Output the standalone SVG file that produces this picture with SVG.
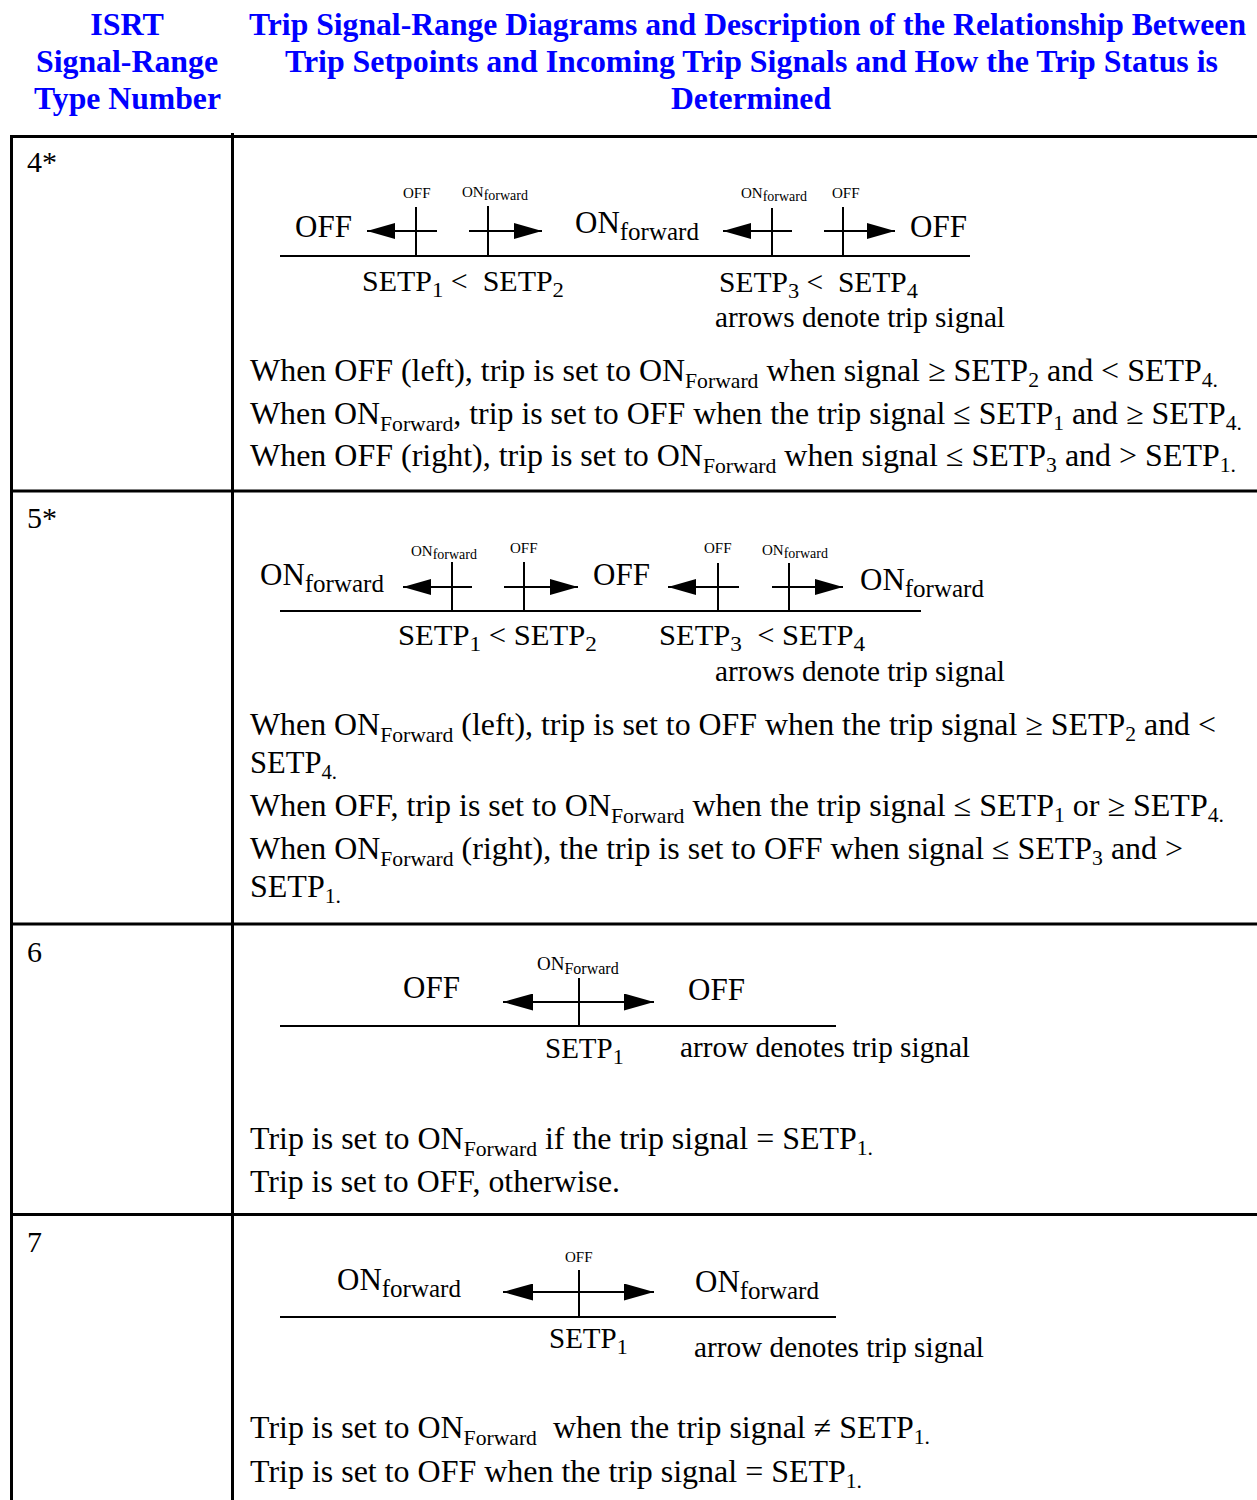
<svg xmlns="http://www.w3.org/2000/svg" width="1257" height="1500" viewBox="0 0 1257 1500">
<style>
.hd{font-family:"Liberation Serif",serif;font-weight:bold;font-size:32px;fill:#0000ff}
.t{font-family:"Liberation Serif",serif;fill:#000}
.big{font-size:31px}
.sm{font-size:15px}
.lbl{font-size:29px}
.body{font-size:31px}
.num{font-size:30px}
.grid{stroke:#000;stroke-width:3;fill:none}
.ln{stroke:#000;stroke-width:2;fill:none}
.ar{stroke:#000;stroke-width:2;fill:none;marker-end:url(#ah)}
.ar2{stroke:#000;stroke-width:2;fill:none;marker-end:url(#ah2);marker-start:url(#ah2)}
</style>
<defs>
<marker id="ah" markerUnits="userSpaceOnUse" markerWidth="29" markerHeight="16" refX="28" refY="8" orient="auto"><path d="M0,0 L28,8 L0,16 z" fill="#000"/></marker>
<marker id="ah2" markerUnits="userSpaceOnUse" markerWidth="31" markerHeight="17" refX="30" refY="8.5" orient="auto-start-reverse"><path d="M0,0 L30,8.5 L0,17 z" fill="#000"/></marker>
</defs>
<rect width="1257" height="1500" fill="#fff"/>

<g id="header">
<text class="hd" x="127" y="35" text-anchor="middle">ISRT</text>
<text class="hd" x="36" y="72" textLength="182" lengthAdjust="spacingAndGlyphs">Signal-Range</text>
<text class="hd" x="34" y="109" textLength="187" lengthAdjust="spacingAndGlyphs">Type Number</text>
<text class="hd" x="249" y="35" textLength="997" lengthAdjust="spacingAndGlyphs">Trip Signal-Range Diagrams and Description of the Relationship Between</text>
<text class="hd" x="285" y="72" textLength="933" lengthAdjust="spacingAndGlyphs">Trip Setpoints and Incoming Trip Signals and How the Trip Status is</text>
<text class="hd" x="671" y="109" textLength="160" lengthAdjust="spacingAndGlyphs">Determined</text>
</g>

<g id="table">
<line class="grid" x1="10" y1="136.5" x2="1257" y2="136.5"/>
<line class="grid" x1="11.5" y1="135" x2="11.5" y2="1500"/>
<line class="grid" x1="232.5" y1="133" x2="232.5" y2="1500"/>
<line class="grid" x1="10" y1="491" x2="1257" y2="491"/>
<line class="grid" x1="10" y1="924" x2="1257" y2="924"/>
<line class="grid" x1="10" y1="1214.5" x2="1257" y2="1214.5"/>
</g>

<g id="row4">
<text class="t num" x="27" y="172">4*</text>
<line class="ln" x1="280" y1="256" x2="970" y2="256"/>
<text class="t big" x="295" y="237">OFF</text>
<text class="t sm" x="403" y="198">OFF</text>
<text class="t sm" x="462" y="197">ON<tspan dy="3" font-size="14">forward</tspan></text>
<text class="t big" x="575" y="233">ON<tspan dy="7" font-size="25">forward</tspan></text>
<text class="t sm" x="741" y="198">ON<tspan dy="3" font-size="14">forward</tspan></text>
<text class="t sm" x="832" y="198">OFF</text>
<text class="t big" x="910" y="237">OFF</text>
<text class="t lbl" x="362" y="291" xml:space="preserve" textLength="202" lengthAdjust="spacingAndGlyphs">SETP<tspan dy="6" font-size="22">1</tspan><tspan dy="-6"> &lt;  SETP</tspan><tspan dy="6" font-size="22">2</tspan></text>
<text class="t lbl" x="719" y="292" xml:space="preserve" textLength="199" lengthAdjust="spacingAndGlyphs">SETP<tspan dy="6" font-size="22">3</tspan><tspan dy="-6"> &lt;  SETP</tspan><tspan dy="6" font-size="22">4</tspan></text>
<text class="t lbl" x="715" y="327" textLength="290" lengthAdjust="spacingAndGlyphs">arrows denote trip signal</text>
<text class="t body" x="250" y="381" textLength="968" lengthAdjust="spacingAndGlyphs">When OFF (left), trip is set to ON<tspan dy="7" font-size="21">Forward</tspan><tspan dy="-7"> when signal ≥ SETP</tspan><tspan dy="6" font-size="21">2</tspan><tspan dy="-6"> and &lt; SETP</tspan><tspan dy="6" font-size="21">4.</tspan></text>
<text class="t body" x="250" y="424" textLength="992" lengthAdjust="spacingAndGlyphs">When ON<tspan dy="7" font-size="21">Forward</tspan><tspan dy="-7">, trip is set to OFF when the trip signal ≤ SETP</tspan><tspan dy="6" font-size="21">1</tspan><tspan dy="-6"> and ≥ SETP</tspan><tspan dy="6" font-size="21">4.</tspan></text>
<text class="t body" x="250" y="466" textLength="986" lengthAdjust="spacingAndGlyphs">When OFF (right), trip is set to ON<tspan dy="7" font-size="21">Forward</tspan><tspan dy="-7"> when signal ≤ SETP</tspan><tspan dy="6" font-size="21">3</tspan><tspan dy="-6"> and &gt; SETP</tspan><tspan dy="6" font-size="21">1.</tspan></text>
</g>

<g id="row5">
<text class="t num" x="27" y="528">5*</text>
<line class="ln" x1="280" y1="611" x2="921" y2="611"/>
<text class="t big" x="260" y="585">ON<tspan dy="7" font-size="25">forward</tspan></text>
<text class="t sm" x="411" y="556">ON<tspan dy="3" font-size="14">forward</tspan></text>
<text class="t sm" x="510" y="553">OFF</text>
<text class="t big" x="593" y="585">OFF</text>
<text class="t sm" x="704" y="553">OFF</text>
<text class="t sm" x="762" y="555">ON<tspan dy="3" font-size="14">forward</tspan></text>
<text class="t big" x="860" y="590">ON<tspan dy="7" font-size="25">forward</tspan></text>
<text class="t lbl" x="398" y="645" xml:space="preserve" textLength="199" lengthAdjust="spacingAndGlyphs">SETP<tspan dy="6" font-size="22">1</tspan><tspan dy="-6"> &lt; SETP</tspan><tspan dy="6" font-size="22">2</tspan></text>
<text class="t lbl" x="659" y="645" xml:space="preserve" textLength="206" lengthAdjust="spacingAndGlyphs">SETP<tspan dy="6" font-size="22">3</tspan><tspan dy="-6">  &lt; SETP</tspan><tspan dy="6" font-size="22">4</tspan></text>
<text class="t lbl" x="715" y="681" textLength="290" lengthAdjust="spacingAndGlyphs">arrows denote trip signal</text>
<text class="t body" x="250" y="735" textLength="966" lengthAdjust="spacingAndGlyphs">When ON<tspan dy="7" font-size="21">Forward</tspan><tspan dy="-7"> (left), trip is set to OFF when the trip signal ≥ SETP</tspan><tspan dy="6" font-size="21">2</tspan><tspan dy="-6"> and &lt;</tspan></text>
<text class="t body" x="250" y="773" textLength="87" lengthAdjust="spacingAndGlyphs">SETP<tspan dy="6" font-size="21">4.</tspan></text>
<text class="t body" x="250" y="816" textLength="974" lengthAdjust="spacingAndGlyphs">When OFF, trip is set to ON<tspan dy="7" font-size="21">Forward</tspan><tspan dy="-7"> when the trip signal ≤ SETP</tspan><tspan dy="6" font-size="21">1</tspan><tspan dy="-6"> or ≥ SETP</tspan><tspan dy="6" font-size="21">4.</tspan></text>
<text class="t body" x="250" y="859" textLength="933" lengthAdjust="spacingAndGlyphs">When ON<tspan dy="7" font-size="21">Forward</tspan><tspan dy="-7"> (right), the trip is set to OFF when signal ≤ SETP</tspan><tspan dy="6" font-size="21">3</tspan><tspan dy="-6"> and &gt;</tspan></text>
<text class="t body" x="250" y="897" textLength="91" lengthAdjust="spacingAndGlyphs">SETP<tspan dy="6" font-size="21">1.</tspan></text>
</g>

<g id="row6">
<text class="t num" x="27" y="962">6</text>
<line class="ln" x1="280" y1="1026" x2="836" y2="1026"/>
<text class="t big" x="403" y="998">OFF</text>
<text class="t" font-size="19" x="537" y="970">ON<tspan dy="4" font-size="16">Forward</tspan></text>
<text class="t big" x="688" y="1000">OFF</text>
<text class="t lbl" x="545" y="1058">SETP<tspan dy="6" font-size="22">1</tspan></text>
<text class="t lbl" x="680" y="1057" textLength="290" lengthAdjust="spacingAndGlyphs">arrow denotes trip signal</text>
<text class="t body" x="250" y="1149" textLength="623" lengthAdjust="spacingAndGlyphs">Trip is set to ON<tspan dy="7" font-size="21">Forward</tspan><tspan dy="-7"> if the trip signal = SETP</tspan><tspan dy="6" font-size="21">1.</tspan></text>
<text class="t body" x="250" y="1192" textLength="370" lengthAdjust="spacingAndGlyphs">Trip is set to OFF, otherwise.</text>
</g>

<g id="row7">
<text class="t num" x="27" y="1252">7</text>
<line class="ln" x1="280" y1="1317" x2="836" y2="1317"/>
<text class="t big" x="337" y="1290">ON<tspan dy="7" font-size="25">forward</tspan></text>
<text class="t sm" x="565" y="1262">OFF</text>
<text class="t big" x="695" y="1292">ON<tspan dy="7" font-size="25">forward</tspan></text>
<text class="t lbl" x="549" y="1348">SETP<tspan dy="6" font-size="22">1</tspan></text>
<text class="t lbl" x="694" y="1357" textLength="290" lengthAdjust="spacingAndGlyphs">arrow denotes trip signal</text>
<text class="t body" x="250" y="1438" xml:space="preserve" textLength="680" lengthAdjust="spacingAndGlyphs">Trip is set to ON<tspan dy="7" font-size="21">Forward</tspan><tspan dy="-7">  when the trip signal ≠ SETP</tspan><tspan dy="6" font-size="21">1.</tspan></text>
<text class="t body" x="250" y="1482" textLength="612" lengthAdjust="spacingAndGlyphs">Trip is set to OFF when the trip signal = SETP<tspan dy="6" font-size="21">1.</tspan></text>
</g>

<g id="connectors">
<line class="ln" x1="416" y1="207" x2="416" y2="256"/>
<line class="ar" x1="437" y1="231" x2="367" y2="231"/>
<line class="ln" x1="488" y1="206" x2="488" y2="256"/>
<line class="ar" x1="469" y1="231" x2="542" y2="231"/>
<line class="ln" x1="772" y1="208" x2="772" y2="256"/>
<line class="ar" x1="792" y1="231" x2="723" y2="231"/>
<line class="ln" x1="843" y1="207" x2="843" y2="256"/>
<line class="ar" x1="824" y1="231" x2="895" y2="231"/>

<line class="ln" x1="452" y1="562" x2="452" y2="611"/>
<line class="ar" x1="472" y1="587" x2="403" y2="587"/>
<line class="ln" x1="524" y1="562" x2="524" y2="611"/>
<line class="ar" x1="504" y1="587" x2="578" y2="587"/>
<line class="ln" x1="718" y1="563" x2="718" y2="611"/>
<line class="ar" x1="739" y1="587" x2="668" y2="587"/>
<line class="ln" x1="789" y1="563" x2="789" y2="611"/>
<line class="ar" x1="772" y1="587" x2="843" y2="587"/>

<line class="ln" x1="579" y1="978" x2="579" y2="1026"/>
<line class="ar2" x1="503" y1="1002" x2="654" y2="1002"/>

<line class="ln" x1="579" y1="1270" x2="579" y2="1317"/>
<line class="ar2" x1="503" y1="1292" x2="654" y2="1292"/>
</g>
</svg>
